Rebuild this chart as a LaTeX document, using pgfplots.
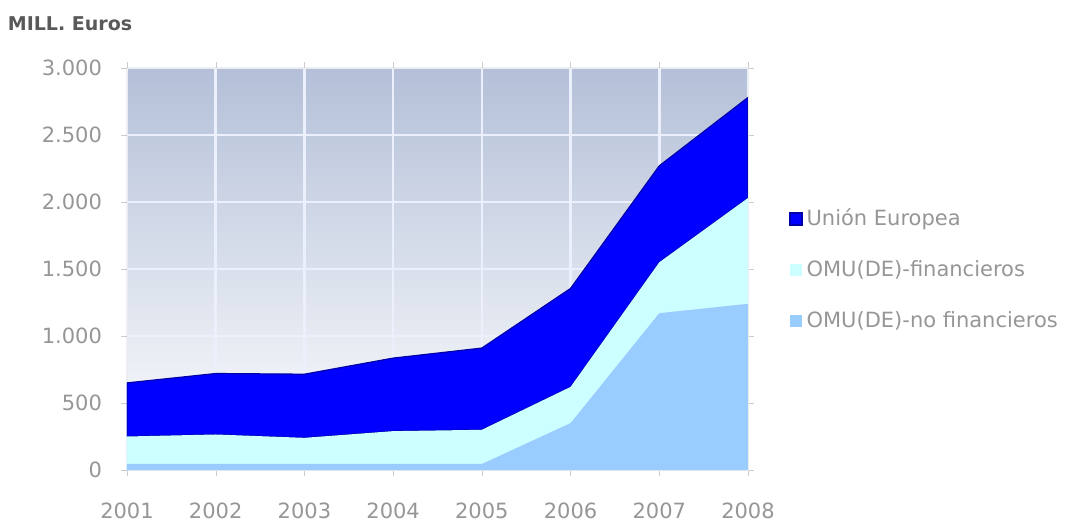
\documentclass[border=0pt]{standalone}
\usepackage{pgfplots}
\pgfplotsset{compat=1.18}
\usepackage{fontspec}
\setmainfont{DejaVu Sans}
\definecolor{ue}{RGB}{0,0,255}
\definecolor{ueedge}{RGB}{0,0,170}
\definecolor{fin}{RGB}{204,255,255}
\definecolor{nofin}{RGB}{153,204,255}
\definecolor{bgtop}{RGB}{180,192,216}
\definecolor{gridc}{RGB}{236,240,252}
\definecolor{tickc}{RGB}{150,150,150}
\begin{document}
\begin{tikzpicture}
\useasboundingbox (-63.5pt,-27pt) rectangle (471pt,235pt);
\begin{axis}[
  at={(0pt,0pt)}, anchor=south west,
  scale only axis, width=310.5pt, height=201pt,
  xmin=2001, xmax=2008, ymin=0, ymax=3000,
  xtick={2001,2002,2003,2004,2005,2006,2007,2008},
  ytick={0,500,1000,1500,2000,2500,3000},
  stack plots=y,
  axis background/.style={shade, top color=bgtop, bottom color=white},
  grid=major,
  major grid style={gridc, line width=1.3pt},
  axis line style={draw=gray!15},
  tick style={gray!40},
  tick align=outside, major tick length=3pt,
  /pgf/number format/assume math mode=true,
  /pgf/number format/1000 sep={.},
  x tick label style={/pgf/number format/1000 sep={}, yshift=-10pt},
  y tick label style={xshift=-6pt},
  ticklabel style={font=\fontsize{10.5}{12}\selectfont, text=tickc},
  legend style={at={(1.066,0.4975)}, anchor=west, draw=none, fill=none,
    font=\fontsize{10.5}{12}\selectfont, text=tickc, row sep=12pt,
    inner sep=0pt, cells={anchor=west}},
  legend image code/.code={\fill[#1] (0pt,-3pt) rectangle (6pt,3pt);},
  reverse legend,
]
\addplot[fill=nofin, draw=none] coordinates {
(2001,45) (2002,45) (2003,45) (2004,45) (2005,45) (2006,350) (2007,1170) (2008,1240)
} \closedcycle;
\addlegendentry{OMU(DE)-no financieros}
\addplot[fill=fin, draw=none] coordinates {
(2001,205) (2002,220) (2003,195) (2004,245) (2005,255) (2006,270) (2007,380) (2008,790)
} \closedcycle;
\addlegendentry{OMU(DE)-financieros}
\addplot[fill=ue, draw=ueedge, line width=0.6pt] coordinates {
(2001,400) (2002,455) (2003,475) (2004,545) (2005,610) (2006,735) (2007,720) (2008,750)
} \closedcycle;
\addlegendentry{Unión Europea}
\end{axis}
\node[text=gray!70!black, font=\bfseries\fontsize{9.5}{11}\selectfont] at (-28.5pt,223pt) {MILL. Euros};
\end{tikzpicture}
\end{document}
